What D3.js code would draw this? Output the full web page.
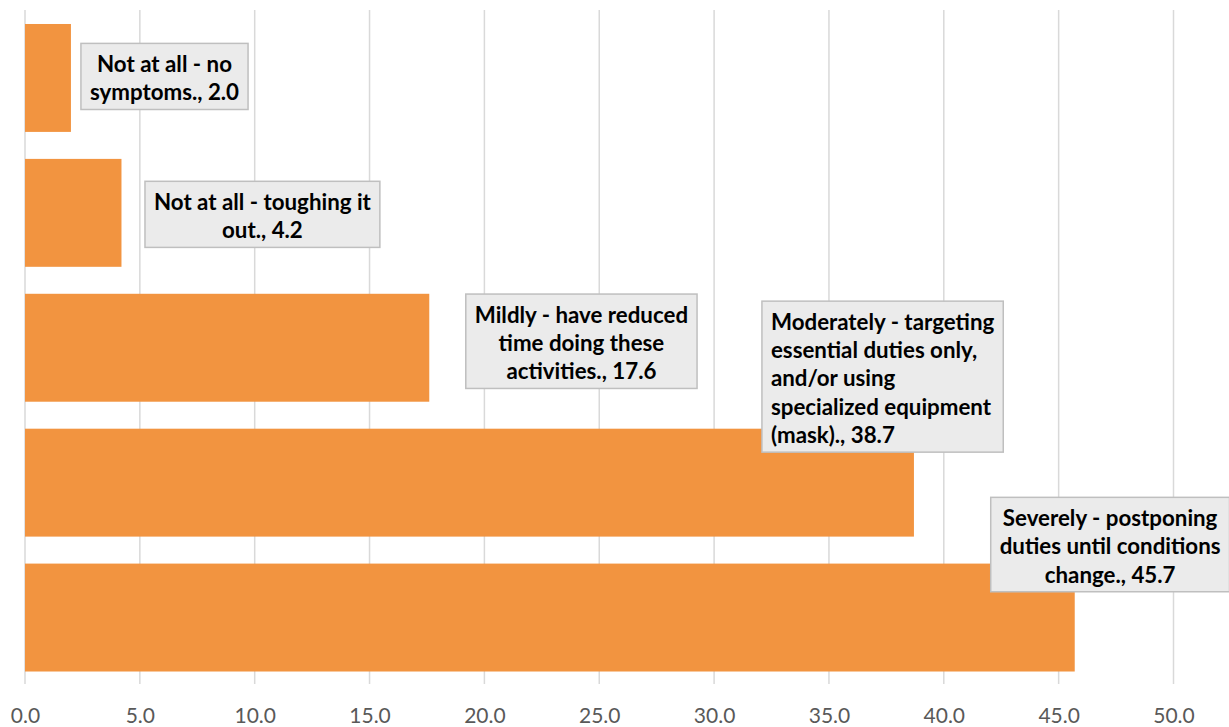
<!DOCTYPE html>
<html>
<head>
<meta charset="utf-8">
<script src="https://cdn.jsdelivr.net/npm/d3@7"></script>
<style>
  html, body { margin: 0; padding: 0; background: #fff; overflow: hidden; }
  svg { display: block; }
</style>
</head>
<body>
<svg id="chart" width="1229" height="727"></svg>
<script>
// ---- Data ----
const categories = [
  "Not at all - no symptoms.",
  "Not at all - toughing it out.",
  "Mildly - have reduced time doing these activities.",
  "Moderately - targeting essential duties only, and/or using specialized equipment (mask).",
  "Severely - postponing duties until conditions change."
];
const values = [2.0, 4.2, 17.6, 38.7, 45.7];
const labelLines = [
  ["Not at all - no", "symptoms., 2.0"],
  ["Not at all - toughing it", "out., 4.2"],
  ["Mildly - have reduced", "time doing these", "activities., 17.6"],
  ["Moderately - targeting", "essential duties only,", "and/or using", "specialized equipment", "(mask)., 38.7"],
  ["Severely - postponing", "duties until conditions", "change., 45.7"]
];
const tickValues = [0, 5, 10, 15, 20, 25, 30, 35, 40, 45, 50];

// ---- Layout (label box placement relative to bar end / bar centre) ----
const labelLayout = [
  { dx: 10, dy: -1.5, align: "middle" },
  { dx: 23.5, dy: 1.5, align: "middle" },
  { dx: 36.5, dy: -6.5, align: "middle" },
  { dx: -152, dy: -106, align: "start" },
  { dx: -84, dy: -73, align: "middle" }
];

const svg = d3.select("#chart");
const x = d3.scaleLinear().domain([0, 50]).range([25, 1173.5]);
const y = d3.scaleBand().domain(d3.range(categories.length)).range([10.5, 685]).paddingInner(0.2).paddingOuter(0.1);

const FONT = "Lato, 'Open Sans', sans-serif";

// gridlines
svg.append("g").selectAll("line").data(tickValues).join("line")
  .attr("x1", d => x(d)).attr("x2", d => x(d))
  .attr("y1", 10).attr("y2", 684)
  .attr("stroke", "#D9D9D9").attr("stroke-width", 1.5);

// axis tick labels
const axis = d3.axisBottom(x).tickValues(tickValues).tickFormat(d3.format(".1f")).tickSize(0).tickPadding(0);
const ag = svg.append("g").attr("transform", "translate(0,716)").call(axis);
ag.select(".domain").remove();
ag.selectAll("text")
  .attr("font-family", FONT).attr("font-size", 21).attr("fill", "#595959")
  .attr("dy", "0.35em").attr("y", 0);

// bars
svg.append("g").selectAll("rect").data(values).join("rect")
  .attr("x", x(0))
  .attr("y", (d, i) => y(i))
  .attr("width", d => x(d) - x(0))
  .attr("height", y.bandwidth())
  .attr("fill", "#F29440");

// labels
const LH = 28.3, PADX = 9, PADY = 9.5, BASE = 28.7;
values.forEach((v, i) => {
  const lines = labelLines[i];
  const lay = labelLayout[i];
  const g = svg.append("g");
  const texts = g.selectAll("text").data(lines).join("text")
    .attr("font-family", FONT).attr("font-weight", 700).attr("font-size", 22.3)
    .attr("fill", "#000").text(d => d);
  let maxW = 0;
  texts.each(function () { maxW = Math.max(maxW, this.getComputedTextLength()); });
  const bw = maxW + 2 * PADX;
  const bh = lines.length * LH + PADY;
  const left = x(v) + lay.dx;
  const top = y(i) + y.bandwidth() / 2 + lay.dy - bh / 2;
  g.insert("rect", "text")
    .attr("x", left).attr("y", top).attr("width", bw).attr("height", bh)
    .attr("fill", "#EBEBEB").attr("stroke", "#BFBFBF").attr("stroke-width", 1.5);
  texts
    .attr("text-anchor", lay.align)
    .attr("x", lay.align === "start" ? left + PADX : left + bw / 2)
    .attr("y", (d, j) => top + BASE + j * LH);
});
</script>
</body>
</html>
